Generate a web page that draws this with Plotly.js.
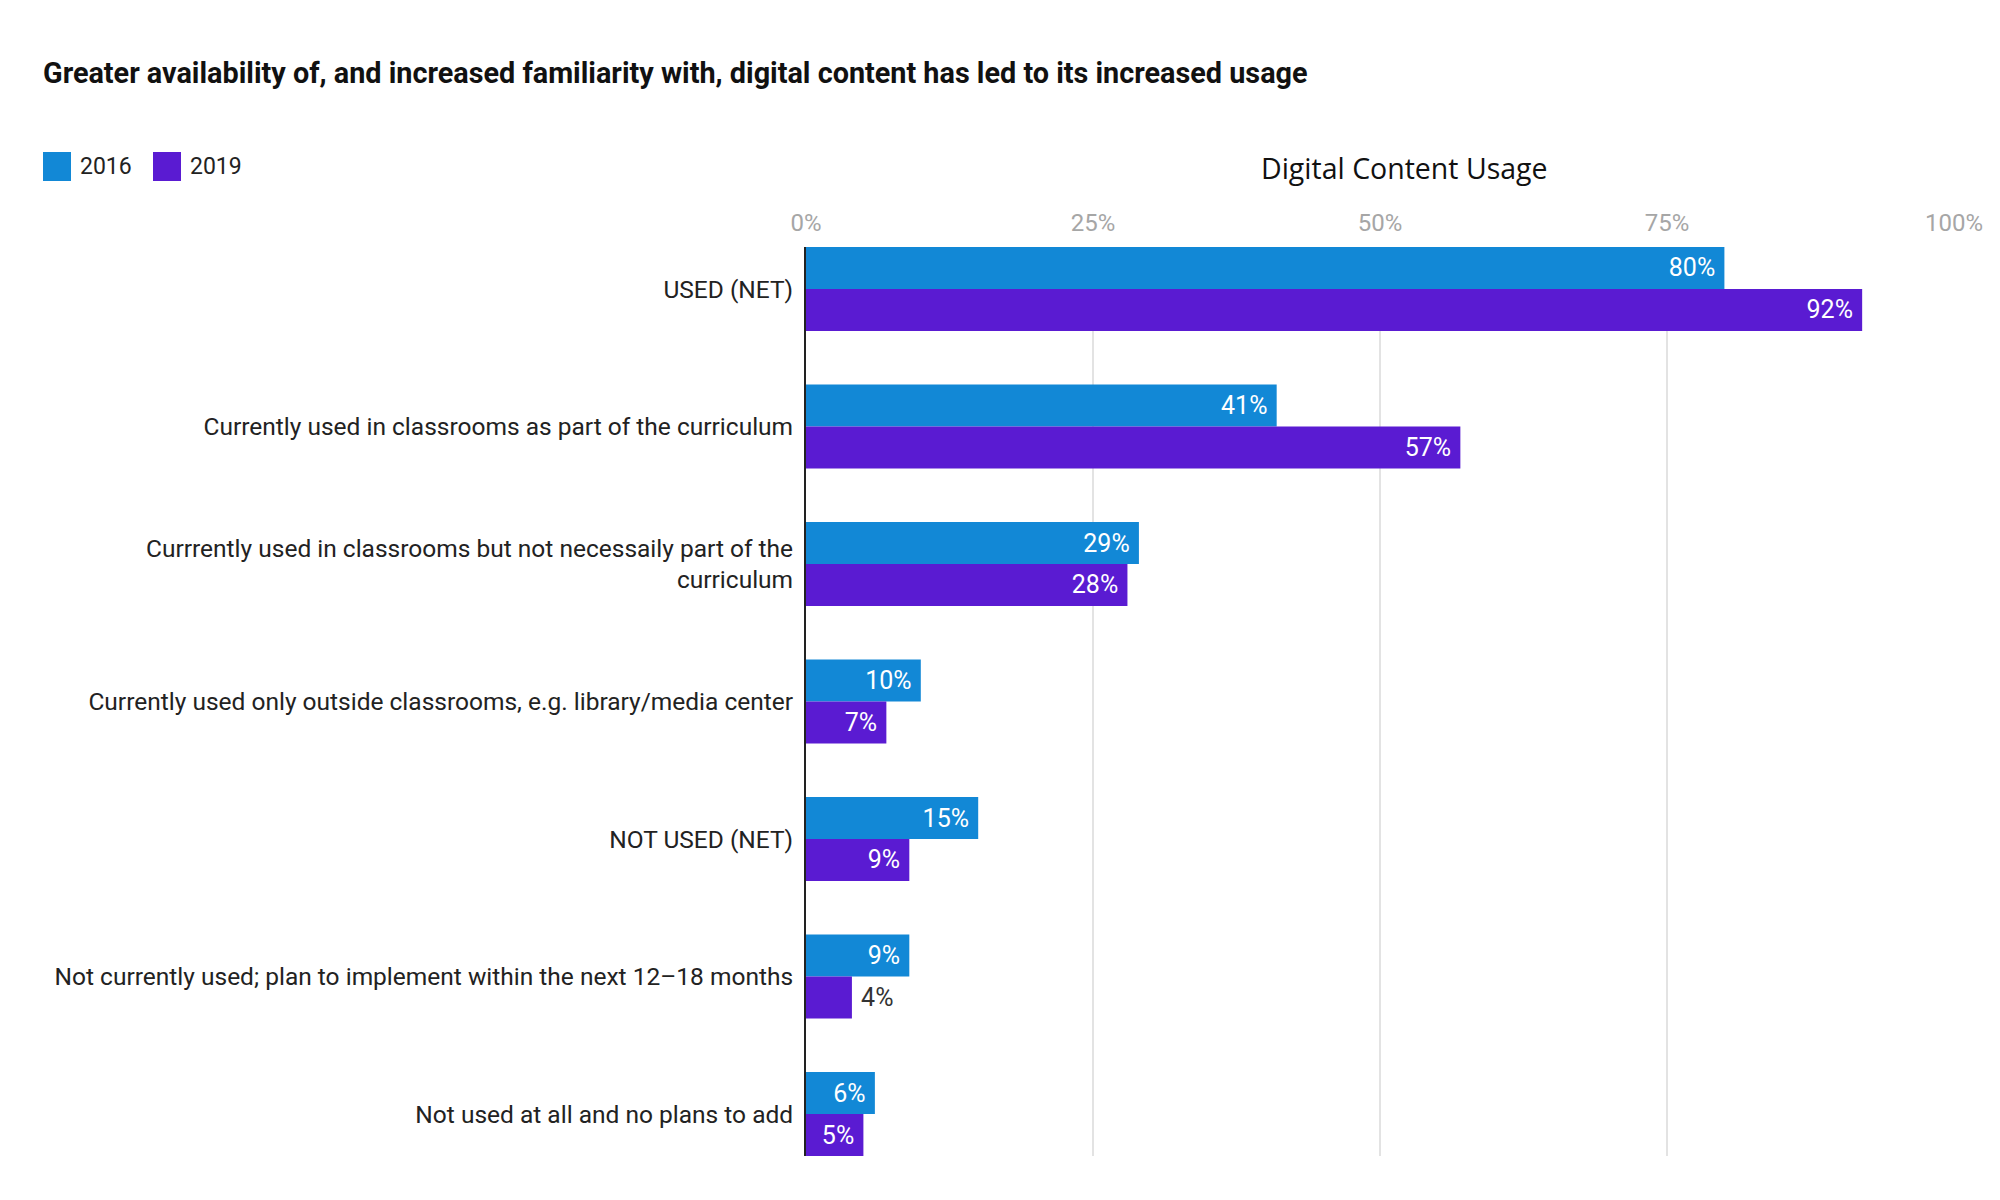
<!DOCTYPE html>
<html>
<head>
<meta charset="utf-8">
<script src="https://cdn.plot.ly/plotly-3.0.1.min.js"></script>
<style>html,body{margin:0;padding:0;background:#fff;}#chart{width:2000px;height:1200px;}</style>
</head>
<body>
<div id="chart"></div>
<script>
const categories = [
  "USED (NET)",
  "Currently used in classrooms as part of the curriculum",
  "Currrently used in classrooms but not necessaily part of the<br>curriculum",
  "Currently used only outside classrooms, e.g. library/media center",
  "NOT USED (NET)",
  "Not currently used; plan to implement within the next 12–18 months",
  "Not used at all and no plans to add"
];
const seriesNames = ["2016", "2019"];
const values2016 = [80, 41, 29, 10, 15, 9, 6];
const values2019 = [92, 57, 28, 7, 9, 4, 5];
const xTickValues = [0, 25, 50, 75, 100];
const xTickLabels = ["0%", "25%", "50%", "75%", "100%"];
const chartTitle = "Greater availability of, and increased familiarity with, digital content has led to its increased usage";
const axisTitle = "Digital Content Usage";

const colors = ["#1288d6", "#5a1bd2"];
const NB = "\u00a0";

function positions(vals) {
  return vals.map(v => v < 5 ? "outside" : "inside");
}
function templates(vals) {
  return vals.map(v => v < 5 ? NB + "%{x}%" : "%{x}%" + NB);
}

const traces = [values2016, values2019].map((vals, i) => ({
  type: "bar",
  orientation: "h",
  name: seriesNames[i],
  y: categories,
  x: vals,
  marker: {color: colors[i]},
  texttemplate: templates(vals),
  textposition: positions(vals),
  insidetextanchor: "end",
  insidetextfont: {family: "Roboto", size: 25, color: "#ffffff"},
  outsidetextfont: {family: "Roboto", size: 25, color: "#333333"},
  textangle: 0,
  cliponaxis: false,
  showlegend: false,
  hoverinfo: "skip"
}));

const L = 806, R = 46, T = 247, B = 44;
const plotW = 2000 - L - R;
const plotH = 1200 - T - B;
function px(xPix) { return (xPix - L) / plotW; }
function py(yPix) { return (1200 - B - yPix) / plotH; }

const shapes = [];
const annotations = [];
const legendPos = [{sx: 43, tx: 78}, {sx: 153, tx: 188}];
seriesNames.forEach((n, i) => {
  shapes.push({
    type: "rect", xref: "paper", yref: "paper",
    x0: px(legendPos[i].sx), x1: px(legendPos[i].sx + 28),
    y0: py(181), y1: py(152),
    fillcolor: colors[i], line: {width: 0}
  });
  annotations.push({
    xref: "paper", yref: "paper", x: px(legendPos[i].tx), y: py(167),
    xanchor: "left", yanchor: "middle", text: n, showarrow: false,
    font: {family: "Roboto", size: 23, color: "#222"}
  });
});
annotations.push({
  xref: "paper", yref: "paper", x: px(1404), y: py(168),
  xanchor: "center", yanchor: "middle", text: axisTitle, showarrow: false,
  font: {family: "Open Sans", size: 28.5, color: "#111"}
});

const layout = {
  width: 2000, height: 1200,
  margin: {l: L, r: R, t: T, b: B, pad: 0},
  paper_bgcolor: "#ffffff", plot_bgcolor: "#ffffff",
  title: {
    text: "<b>" + chartTitle + "</b>",
    x: 43 / 2000, xanchor: "left", xref: "container",
    y: 1 - 73 / 1200, yanchor: "middle", yref: "container",
    font: {family: "Roboto", size: 28.8, color: "#111"}
  },
  barmode: "group",
  bargap: 0.39,
  bargroupgap: 0,
  showlegend: false,
  xaxis: {
    side: "top",
    range: [0, 100],
    tickvals: xTickValues,
    ticktext: xTickLabels,
    tickfont: {family: "Roboto", size: 24, color: "#a6a6a6"},
    showgrid: true, gridcolor: "#e3e3e3", gridwidth: 2,
    zeroline: false, showline: false, ticks: "",
    ticklabelstandoff: 10,
    fixedrange: true
  },
  yaxis: {
    type: "category",
    range: [6.305, -0.305],
    tickfont: {family: "Roboto", size: 24.5, color: "#222"},
    showgrid: false, zeroline: false,
    showline: true, linecolor: "#222", linewidth: 2,
    ticks: "", ticklabelstandoff: 6,
    fixedrange: true
  },
  shapes: shapes,
  annotations: annotations
};

Plotly.newPlot("chart", traces, layout, {displayModeBar: false, staticPlot: true});
</script>
</body>
</html>
